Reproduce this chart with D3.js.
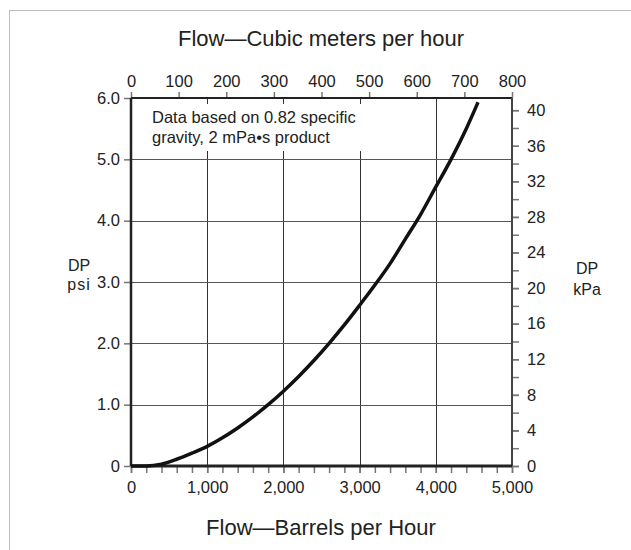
<!DOCTYPE html>
<html>
<head>
<meta charset="utf-8">
<script src="https://cdn.jsdelivr.net/npm/d3@7"></script>
<style>
  body { margin: 0; background: #fff; }
  svg { display: block; }
</style>
</head>
<body>
<div id="chart"></div>
<script>
// flow in barrels per hour and pressure drop in psi
var flowBbl = [0, 200, 400, 600, 800, 1000, 1200, 1400, 1600, 1800, 2000, 2200,
  2400, 2600, 2800, 3000, 3200, 3400, 3600, 3800, 4000, 4200, 4400, 4554];
var dpPsi = [0, 0, 0.03, 0.11, 0.21, 0.32, 0.46, 0.62, 0.8, 1.0, 1.22, 1.46,
  1.72, 2.0, 2.3, 2.62, 2.95, 3.3, 3.7, 4.1, 4.55, 5.0, 5.5, 5.93];

var bblTicks = [0, 1000, 2000, 3000, 4000, 5000];
var bblMinor = d3.range(0, 5001, 200);
var cubicTicks = [0, 100, 200, 300, 400, 500, 600, 700, 800];
var psiTicks = [0, 1, 2, 3, 4, 5, 6];
var kpaTicks = [0, 4, 8, 12, 16, 20, 24, 28, 32, 36, 40];
var kpaMinor = d3.range(0, 41, 2);
var noteLines = ["Data based on 0.82 specific", "gravity, 2 mPa\u2022s product"];

var width = 631,
  height = 550,
  margin = {top: 98, right: 119, bottom: 84, left: 131},
  innerWidth = width - margin.left - margin.right,
  innerHeight = height - margin.top - margin.bottom,
  psiToKpa = 6.895,
  font = "'Liberation Sans', Arial, sans-serif";

var svg = d3.select("#chart").append("svg")
  .attr("width", width)
  .attr("height", height)
  .style("font-family", font);

// light frame round the figure
svg.append("line").attr("x1", 9.5).attr("x2", 9.5).attr("y1", 10).attr("y2", height)
  .attr("stroke", "#bdbdbd");
svg.append("line").attr("x1", 9).attr("x2", width).attr("y1", 10.5).attr("y2", 10.5)
  .attr("stroke", "#bdbdbd");

var g = svg.append("g")
  .attr("transform", "translate(" + margin.left + "," + margin.top + ")");

var x = d3.scaleLinear().domain([0, 5000]).range([0, innerWidth]);
var xTop = d3.scaleLinear().domain([0, 800]).range([0, innerWidth]);
var y = d3.scaleLinear().domain([0, 6]).range([innerHeight, 0]);
var yRight = d3.scaleLinear().domain([0, 6 * psiToKpa]).range([innerHeight, 0]);

// grid
g.selectAll(".vgrid").data(bblTicks.slice(1, -1)).enter().append("line")
  .attr("x1", function(d) { return Math.round(x(d)) + 0.5; })
  .attr("x2", function(d) { return Math.round(x(d)) + 0.5; })
  .attr("y1", 0).attr("y2", innerHeight)
  .attr("stroke", "#333").attr("stroke-width", 1);
g.selectAll(".hgrid").data(psiTicks.slice(1, -1)).enter().append("line")
  .attr("y1", function(d) { return Math.round(y(d)) + 0.5; })
  .attr("y2", function(d) { return Math.round(y(d)) + 0.5; })
  .attr("x1", 0).attr("x2", innerWidth)
  .attr("stroke", "#555").attr("stroke-width", 1);

// note box
var note = g.append("g").attr("transform", "translate(14,6)");
note.append("rect").attr("width", 240).attr("height", 47).attr("fill", "#fff");
note.selectAll("text").data(noteLines).enter().append("text")
  .attr("x", 7)
  .attr("y", function(d, i) { return 19 + i * 20; })
  .attr("font-size", "16.5px")
  .attr("fill", "#222")
  .text(function(d) { return d; });

function styleAxis(sel) {
  sel.select(".domain").remove();
  sel.selectAll(".tick line").attr("stroke", "#777").attr("stroke-width", 1.5);
  sel.selectAll(".tick text").attr("fill", "#222").attr("font-size", "16.5px")
    .attr("font-family", font);
}

// minor ticks carry no labels
function minorTicks(sel) {
  sel.select(".domain").remove();
  sel.selectAll(".tick text").remove();
  sel.selectAll(".tick line").attr("stroke", "#777").attr("stroke-width", 1.5);
}

// bottom: barrels per hour, minor ticks every 200
g.append("g").attr("transform", "translate(0," + innerHeight + ")")
  .call(d3.axisBottom(x).tickValues(bblMinor).tickSize(7))
  .call(minorTicks);
g.append("g").attr("transform", "translate(0," + innerHeight + ")")
  .call(d3.axisBottom(x).tickValues(bblTicks).tickSize(7).tickPadding(6).tickFormat(d3.format(",")))
  .call(styleAxis)
  .selectAll(".tick text").attr("dy", "0.85em");

// top: cubic meters per hour
g.append("g")
  .call(d3.axisTop(xTop).tickValues(cubicTicks).tickSize(6).tickPadding(5))
  .call(styleAxis);

// left: psi
g.append("g")
  .call(d3.axisLeft(y).tickValues(psiTicks).tickSize(7).tickPadding(4)
    .tickFormat(function(d) { return d === 0 ? "0" : d3.format(".1f")(d); }))
  .call(styleAxis);

// right: kPa, minor ticks every 2
g.append("g").attr("transform", "translate(" + innerWidth + ",0)")
  .call(d3.axisRight(yRight).tickValues(kpaMinor).tickSize(7))
  .call(minorTicks);
g.append("g").attr("transform", "translate(" + innerWidth + ",0)")
  .call(d3.axisRight(yRight).tickValues(kpaTicks).tickSize(7).tickPadding(8))
  .call(styleAxis);

// frame of the plot
g.append("line").attr("x1", 0).attr("x2", innerWidth).attr("y1", 0).attr("y2", 0)
  .attr("stroke", "#222").attr("stroke-width", 2);
g.append("line").attr("x1", innerWidth).attr("x2", innerWidth).attr("y1", 0).attr("y2", innerHeight)
  .attr("stroke", "#444").attr("stroke-width", 2);
g.append("line").attr("x1", 0).attr("x2", 0).attr("y1", 0).attr("y2", innerHeight)
  .attr("stroke", "#222").attr("stroke-width", 2.5);
g.append("line").attr("x1", 0).attr("x2", innerWidth).attr("y1", innerHeight).attr("y2", innerHeight)
  .attr("stroke", "#222").attr("stroke-width", 3);

// the curve
var line = d3.line()
  .x(function(d) { return x(d[0]); })
  .y(function(d) { return y(d[1]); })
  .curve(d3.curveMonotoneX);

g.append("path")
  .datum(d3.zip(flowBbl, dpPsi))
  .attr("d", line)
  .attr("fill", "none")
  .attr("stroke", "#111")
  .attr("stroke-width", 3.5);

// titles
svg.append("text").attr("x", 321).attr("y", 46).attr("text-anchor", "middle")
  .attr("font-size", "22px").attr("fill", "#222").text("Flow\u2014Cubic meters per hour");
svg.append("text").attr("x", 321).attr("y", 535).attr("text-anchor", "middle")
  .attr("font-size", "22px").attr("fill", "#222").text("Flow\u2014Barrels per Hour");

svg.append("text").attr("x", 79).attr("y", 271).attr("text-anchor", "middle")
  .attr("font-size", "16px").attr("fill", "#222").text("DP");
svg.append("text").attr("x", 79).attr("y", 290).attr("text-anchor", "middle")
  .attr("font-size", "16px").attr("fill", "#222").attr("letter-spacing", "1px").text("psi");
svg.append("text").attr("x", 587).attr("y", 274).attr("text-anchor", "middle")
  .attr("font-size", "16px").attr("fill", "#222").text("DP");
svg.append("text").attr("x", 587).attr("y", 295).attr("text-anchor", "middle")
  .attr("font-size", "16px").attr("fill", "#222").text("kPa");
</script>
</body>
</html>
